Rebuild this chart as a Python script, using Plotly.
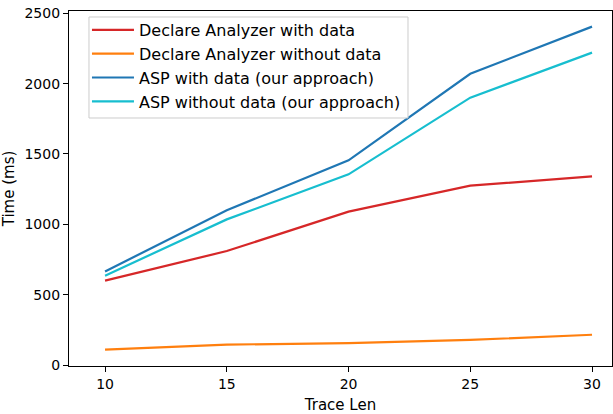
import plotly.graph_objects as go

trace_len = [10, 15, 20, 25, 30]
da_with = [600, 810, 1090, 1275, 1340]
da_without = [110, 145, 155, 178, 215]
asp_with = [665, 1100, 1455, 2070, 2405]
asp_without = [635, 1035, 1355, 1900, 2220]

series = [
    ("Declare Analyzer with data", da_with, "#d62728"),
    ("Declare Analyzer without data", da_without, "#ff7f0e"),
    ("ASP with data (our approach)", asp_with, "#1f77b4"),
    ("ASP without data (our approach)", asp_without, "#17becf"),
]

fig = go.Figure()
for name, vals, col in series:
    fig.add_trace(go.Scatter(x=trace_len, y=vals, mode="lines", name=name,
                             line=dict(color=col, width=2.2)))

font = "DejaVu Sans"
axis_common = dict(showgrid=False, zeroline=False, showline=True, linecolor="black",
                   linewidth=1.3, mirror=True, ticks="outside", ticklen=5,
                   tickcolor="black", automargin=False,
                   tickfont=dict(family=font, size=14, color="black"))

# legend frame (drawn as a shape so its size matches the reference)
fig.add_shape(type="rect", xref="paper", yref="paper",
              x0=0.0368, x1=0.6243, y0=0.6986, y1=0.9831,
              fillcolor="rgba(255,255,255,0.8)", line=dict(color="#cccccc", width=1),
              layer="above")

fig.update_layout(
    width=613, height=414,
    margin=dict(l=69, r=1, t=11, b=48),
    paper_bgcolor="white", plot_bgcolor="white",
    xaxis=dict(range=[8.52, 30.82], tickvals=[10, 15, 20, 25, 30],
               title=dict(text="Trace Len", font=dict(family=font, size=15, color="black"), standoff=12),
               **axis_common),
    yaxis=dict(range=[-7, 2516], tickvals=[0, 500, 1000, 1500, 2000, 2500],
               title=dict(text="Time (ms)", font=dict(family=font, size=15, color="black"), standoff=6),
               **axis_common),
    legend=dict(x=0.0331, y=0.9944, xanchor="left", yanchor="top",
                bgcolor="rgba(0,0,0,0)", borderwidth=0,
                font=dict(family=font, size=16, color="black"), itemwidth=42,
                tracegroupgap=0),
    showlegend=True,
)

fig.write_html("out.html", config={"displayModeBar": False},
               post_script="document.body.style.margin='0';document.body.style.overflow='hidden';")
